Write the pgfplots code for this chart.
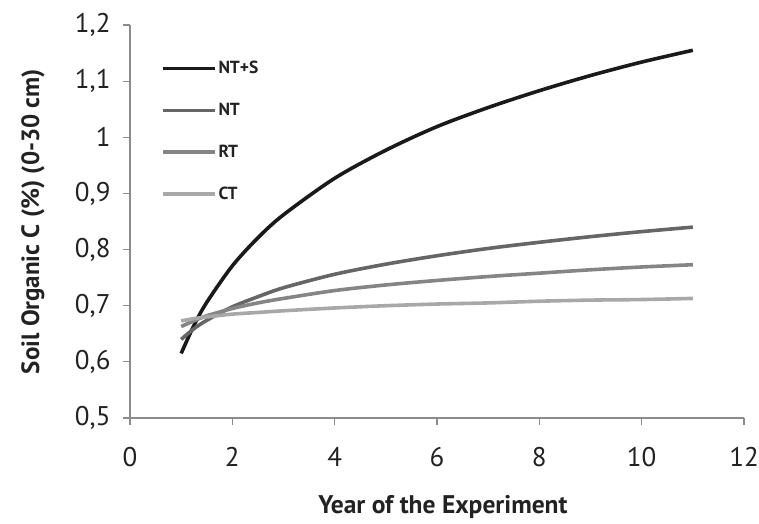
\documentclass[border=0pt]{standalone}
\usepackage{pgfplots}
\pgfplotsset{compat=1.18}
\usepackage{fontspec}
\setmainfont{PT Sans}
\definecolor{cNTS}{HTML}{1A1A1A}
\definecolor{cNT}{HTML}{666666}
\definecolor{cRT}{HTML}{858585}
\definecolor{cCT}{HTML}{A8A8A8}
\definecolor{axgray}{HTML}{8C8C8C}
\definecolor{txt}{HTML}{222222}
\begin{document}
\begin{tikzpicture}
\begin{axis}[
  scale only axis,
  width=614pt, height=393pt,
  xmin=0, xmax=12, ymin=0.5, ymax=1.2,
  axis lines=left,
  axis line style={-, draw=axgray, line width=1.2pt},
  tick style={draw=axgray, line width=1.2pt},
  tick align=outside,
  major tick length=7pt,
  xtick={0,2,4,6,8,10,12},
  ytick={0.5,0.6,0.7,0.8,0.9,1.0,1.1,1.2},
  xticklabels={0,2,4,6,8,10,12},
  yticklabels={{0,5},{0,6},{0,7},{0,8},{0,9},1,{1,1},{1,2}},
  xticklabel style={font=\fontsize{27}{30}\selectfont, text=txt, yshift=-32pt, anchor=center},
  yticklabel style={font=\fontsize{27}{30}\selectfont, text=txt, xshift=-9pt},
  xlabel={\textbf{Year of the Experiment}},
  ylabel={\textbf{Soil Organic C (\%) (0-30 cm)}},
  xlabel style={font=\fontsize{25.5}{28}\selectfont, text=txt, at={(rel axis cs:0.5,0)}, anchor=center, yshift=-89pt, xshift=6pt},
  ylabel style={font=\fontsize{25}{28}\selectfont, text=txt, at={(rel axis cs:0,0.5)}, anchor=center, yshift=97pt},
  legend style={at={(axis cs:0.6,1.139)}, anchor=north west, draw=none, fill=none,
    inner sep=0pt, row sep=24pt,
    font=\fontsize{17.5}{20}\selectfont\bfseries, text=txt},
  legend cell align=left,
  legend image code/.code={\draw[#1] (0pt,0pt) -- (52pt,0pt);},
  every axis plot/.append style={line width=3.6pt, smooth},
]
\addplot[cNTS] coordinates {(1,0.615)(1.25,0.665)(1.5,0.706)(2,0.771)(2.5,0.821)(3,0.862)(4,0.927)(5,0.977)(6,1.019)(7,1.053)(8,1.083)(9,1.110)(10,1.134)(11,1.155)};
\addlegendentry{NT+S}
\addplot[cNT] coordinates {(1,0.640)(1.25,0.659)(1.5,0.674)(2,0.698)(2.5,0.716)(3,0.732)(4,0.756)(5,0.774)(6,0.789)(7,0.802)(8,0.813)(9,0.823)(10,0.832)(11,0.840)};
\addlegendentry{NT}
\addplot[cRT] coordinates {(1,0.663)(1.25,0.673)(1.5,0.682)(2,0.695)(2.5,0.705)(3,0.713)(4,0.727)(5,0.737)(6,0.745)(7,0.752)(8,0.758)(9,0.764)(10,0.769)(11,0.773)};
\addlegendentry{RT}
\addplot[cCT] coordinates {(1,0.673)(1.25,0.677)(1.5,0.680)(2,0.685)(2.5,0.688)(3,0.691)(4,0.696)(5,0.700)(6,0.703)(7,0.705)(8,0.708)(9,0.710)(10,0.711)(11,0.713)};
\addlegendentry{CT}
\end{axis}
\pgfresetboundingbox
\path (current axis.south west) ++(-130pt,-105pt) rectangle ++(759pt,523pt);
\end{tikzpicture}
\end{document}
